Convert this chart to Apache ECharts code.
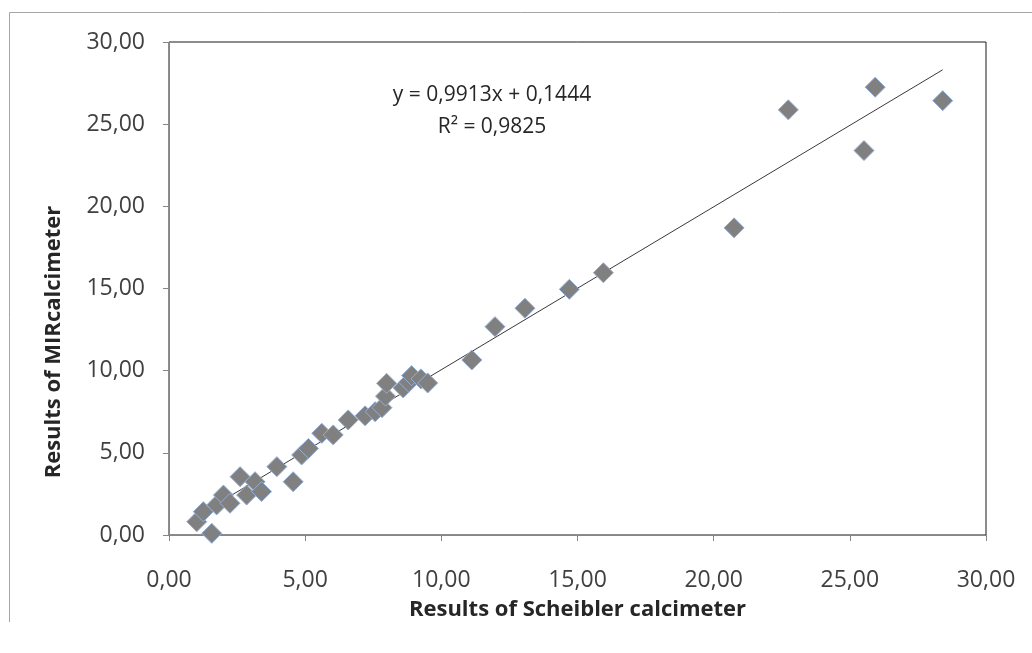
<!DOCTYPE html>
<html>
<head>
<meta charset="utf-8">
<script src="https://cdn.jsdelivr.net/npm/echarts@6/dist/echarts.min.js"></script>
<style>
  html, body { margin: 0; padding: 0; background: #fff; }
  #chart { width: 1032px; height: 653px; }
</style>
</head>
<body>
<div id="chart"></div>
<script>
// Scheibler calcimeter (x) vs MIR calcimeter (y)
const scheibler = [1.02, 1.26, 1.57, 1.75, 2.00, 2.24, 2.61, 2.85, 3.16, 3.40, 3.96, 4.56, 4.87, 5.12,
  5.61, 6.03, 6.58, 7.20, 7.57, 7.82, 7.95, 7.99, 8.60, 8.80, 8.91, 9.25, 9.50,
  11.12, 11.97, 13.07, 14.70, 15.95, 20.75, 22.74, 25.52, 25.93, 28.41];
const mir = [0.81, 1.42, 0.10, 1.83, 2.43, 1.93, 3.55, 2.43, 3.24, 2.64, 4.16, 3.24, 4.87, 5.27,
  6.19, 6.09, 7.00, 7.25, 7.50, 7.75, 8.45, 9.23, 8.95, 9.30, 9.70, 9.50, 9.25,
  10.65, 12.68, 13.80, 14.95, 15.96, 18.69, 25.87, 23.39, 27.25, 26.43];

// linear trendline shown on the chart
const slope = 0.9913;
const intercept = 0.1444;
const rSquared = 0.9825;
const equationText = ['y = 0,9913x + 0,1444', 'R² = 0,9825'];

const points = scheibler.map((x, i) => [x, mir[i]]);
const xMin = Math.min(...scheibler);
const xMax = Math.max(...scheibler);
const trend = [[xMin, slope * xMin + intercept], [xMax, slope * xMax + intercept]];

const fmt = v => v.toFixed(2).replace('.', ',');
const labelFont = "'Open Sans', sans-serif";

const chart = echarts.init(document.getElementById('chart'));
chart.setOption({
  animation: false,
  backgroundColor: '#fff',
  grid: {
    left: 169, right: 46, top: 42, bottom: 118,
    show: true, borderColor: '#1a1a1a', borderWidth: 1
  },
  xAxis: {
    type: 'value', min: 0, max: 30, interval: 5,
    name: 'Results of Scheibler calcimeter',
    nameLocation: 'middle', nameGap: 64,
    nameTextStyle: { fontFamily: "'Liberation Sans Narrow', 'Open Sans', sans-serif", fontWeight: 'bold', fontSize: 22, color: '#262626' },
    axisLine: { lineStyle: { color: '#868686' } },
    axisTick: { show: true, length: 6, lineStyle: { color: '#868686' } },
    axisLabel: { formatter: fmt, margin: 34, fontFamily: labelFont, fontSize: 23, color: '#404040' },
    splitLine: { show: false }
  },
  yAxis: {
    type: 'value', min: 0, max: 30, interval: 5,
    axisLine: { show: true, lineStyle: { color: '#868686' } },
    axisTick: { show: true, length: 6, lineStyle: { color: '#868686' } },
    axisLabel: { formatter: fmt, margin: 24, fontFamily: labelFont, fontSize: 23, color: '#404040' },
    splitLine: { show: false }
  },
  graphic: [
    { type: 'line', shape: { x1: 9.5, y1: 12.5, x2: 1032, y2: 12.5 }, style: { stroke: '#a6a6a6', lineWidth: 1 } },
    { type: 'line', shape: { x1: 9.5, y1: 12.5, x2: 9.5, y2: 622 }, style: { stroke: '#a6a6a6', lineWidth: 1 } },
    {
      type: 'text', x: 54, y: 342, rotation: Math.PI / 2,
      style: {
        text: 'Results of MIRcalcimeter', align: 'center', verticalAlign: 'middle',
        font: "bold 22px 'Open Sans', sans-serif", fill: '#262626'
      }
    },
    {
      type: 'text', x: 492, y: 111,
      style: {
        text: equationText.join('\n'), align: 'center', verticalAlign: 'middle',
        font: "21px 'Open Sans', sans-serif", fill: '#262626', lineHeight: 32
      }
    }
  ],
  series: [
    {
      type: 'line', data: trend, showSymbol: false, symbol: 'none',
      lineStyle: { color: '#3a3a3a', width: 1 }, z: 1, silent: true
    },
    {
      type: 'scatter', data: points, symbol: 'diamond', symbolSize: [20, 20],
      itemStyle: { color: '#808080', borderColor: '#93aed6', borderWidth: 1, opacity: 1 }, z: 2
    }
  ]
});
</script>
</body>
</html>
